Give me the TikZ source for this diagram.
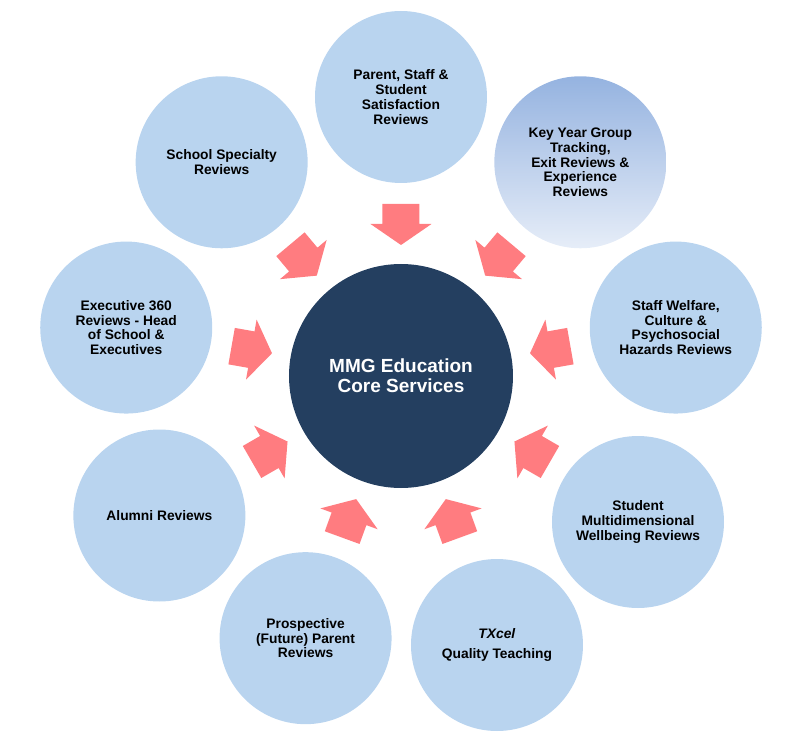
\documentclass[tikz,border=0pt]{standalone}
\usepackage{fontspec}
\setmainfont{Liberation Sans}
\definecolor{outerblue}{HTML}{B9D4EF}
\definecolor{navy}{HTML}{243F60}
\definecolor{salmon}{HTML}{FF7C80}
\definecolor{gradtop}{HTML}{95B3E0}
\definecolor{gradbot}{HTML}{E6EDF8}
\tikzset{
  outer/.style={circle, fill=outerblue, minimum size=172pt, inner sep=0pt, align=center,
    font=\fontsize{13.8pt}{14.8pt}\selectfont\bfseries, text=black},
  core/.style={circle, fill=navy, minimum size=224pt, inner sep=0pt, align=center,
    font=\fontsize{19pt}{20pt}\selectfont\bfseries, text=white},
  blockarrow/.style={fill=salmon}
}
\begin{document}
\begin{tikzpicture}[x=1pt,y=1pt]
\useasboundingbox (-401,-358) rectangle (395,376);
\node[core] (core) at (0,0) {MMG Education\\Core Services};
\node[outer] (c1) at (90:279) {Parent, Staff \&\\Student\\Satisfaction\\Reviews};
\node[outer, fill=none, top color=gradtop, bottom color=gradbot] (c2) at (50:279) {Key Year Group\\Tracking,\\Exit Reviews \&\\Experience\\Reviews};
\node[outer] (c3) at (10:279) {Staff Welfare,\\Culture \&\\Psychosocial\\Hazards Reviews};
\node[outer] (c4) at (237,-146) {Student\\Multidimensional\\Wellbeing Reviews};
\node[outer] (c5) at (96,-269) {\textit{TXcel}\\[5pt]Quality Teaching};
\node[outer] (c6) at (-110:279) {Prospective\\(Future) Parent\\Reviews};
\node[outer] (c7) at (-150:279) {Alumni Reviews};
\node[outer] (c8) at (170:279) {Executive 360\\Reviews - Head\\of School \&\\Executives};
\node[outer] (c9) at (130:279) {School Specialty\\Reviews};
\foreach \a in {90,50,10,-30,-70,-110,-150,170,130}{
  \fill[blockarrow, rotate=\a] (131,0) -- (152,30.5) -- (152,18.5) -- (172,18.5)
    -- (172,-18.5) -- (152,-18.5) -- (152,-30.5) -- cycle;
}
\end{tikzpicture}
\end{document}
